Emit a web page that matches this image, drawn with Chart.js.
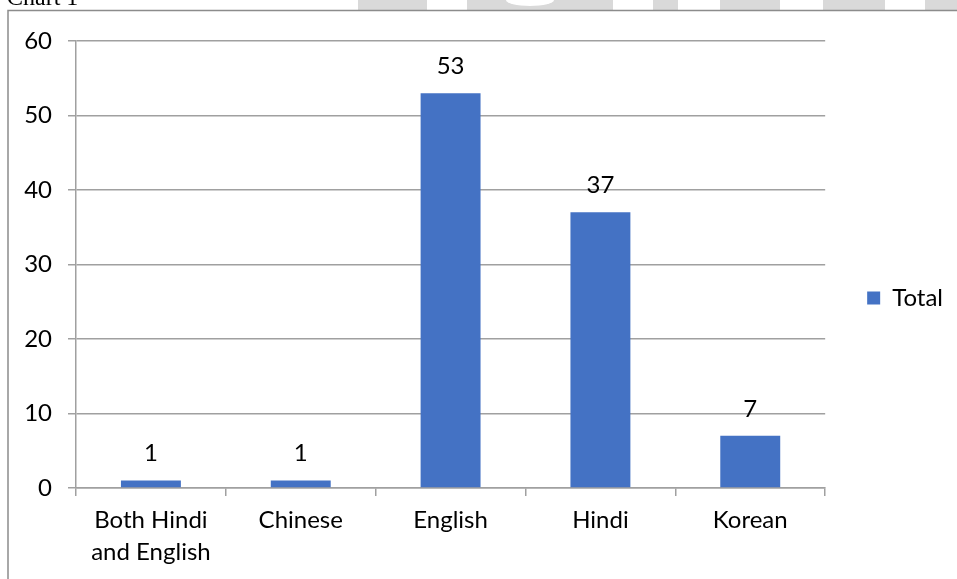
<!DOCTYPE html>
<html lang="en">
<head>
    <meta charset="UTF-8">
    <title>Chart 1</title>
    <script src="https://cdn.jsdelivr.net/npm/chart.js"></script>
    <style>
        html, body { margin: 0; padding: 0; background: #fff; overflow: hidden; }
    </style>
</head>
<body>
    <canvas id="languageChart" width="957" height="579"></canvas>

    <script>
        // chart values
        const languages = [['Both Hindi', 'and English'], 'Chinese', 'English', 'Hindi', 'Korean'];
        const totals = [1, 1, 53, 37, 7];
        const yTicks = [0, 10, 20, 30, 40, 50, 60];
        const seriesName = 'Total';

        const fontFamily = 'Lato, "Open Sans", sans-serif';

        // page frame, caption and the faint watermark behind the chart
        const pageFrame = {
            id: 'pageFrame',
            beforeDraw(chart) {
                const c = chart.ctx;
                c.save();
                c.fillStyle = '#fff';
                c.fillRect(0, 0, chart.width, chart.height);
                c.fillStyle = '#d9d9d9';
                [[358, 69], [467, 146], [653, 25], [720, 60], [823, 62], [925, 32]].forEach(([x, w]) => {
                    c.fillRect(x, 0, w, 10);
                });
                c.fillStyle = '#fff';
                c.beginPath();
                c.ellipse(530, 0, 24, 6, 0, 0, Math.PI * 2);
                c.fill();
                c.fillStyle = '#000';
                c.font = '24px "Liberation Serif", serif';
                c.textBaseline = 'alphabetic';
                c.fillText('Chart 1', 7, 5);
                c.strokeStyle = '#8c8c8c';
                c.lineWidth = 1.5;
                c.beginPath();
                c.moveTo(8, 579);
                c.lineTo(8, 10.5);
                c.lineTo(957, 10.5);
                c.stroke();
                c.restore();
            }
        };

        // value labels above each bar
        const valueLabels = {
            id: 'valueLabels',
            afterDatasetsDraw(chart) {
                const c = chart.ctx;
                c.save();
                c.font = '24px ' + fontFamily;
                c.fillStyle = '#000';
                c.textAlign = 'center';
                c.textBaseline = 'middle';
                chart.getDatasetMeta(0).data.forEach((bar, i) => {
                    c.fillText(String(totals[i]), bar.x, bar.y - 27);
                });
                c.restore();
            }
        };

        const ctx = document.getElementById('languageChart').getContext('2d');
        new Chart(ctx, {
            type: 'bar',
            data: {
                labels: languages,
                datasets: [{
                    label: seriesName,
                    data: totals,
                    backgroundColor: '#4472C4',
                    categoryPercentage: 1,
                    barPercentage: 0.4
                }]
            },
            options: {
                responsive: false,
                animation: false,
                layout: { padding: { top: 17, left: 0, right: 4, bottom: 0 } },
                plugins: {
                    // empty spacer above the plot only, so the legend centres on the frame
                    title: {
                        display: true,
                        text: ' ',
                        fullSize: false,
                        padding: 0,
                        font: { size: 24, lineHeight: 1 }
                    },
                    legend: {
                        position: 'right',
                        labels: {
                            color: '#000',
                            font: { family: fontFamily, size: 24 },
                            boxWidth: 13,
                            boxHeight: 13,
                            padding: 42
                        }
                    },
                    tooltip: { enabled: false }
                },
                scales: {
                    x: {
                        grid: {
                            offset: true,
                            drawOnChartArea: false,
                            drawTicks: true,
                            tickLength: 8,
                            color: '#a0a0a0',
                            lineWidth: 1.5
                        },
                        border: { color: '#a0a0a0', width: 1.5 },
                        ticks: {
                            color: '#000',
                            font: { family: fontFamily, size: 24, lineHeight: 1.35 },
                            padding: 8,
                            maxRotation: 0
                        },
                        afterFit(scale) { scale.height = 91; }
                    },
                    y: {
                        min: 0,
                        max: 60,
                        afterBuildTicks(scale) { scale.ticks = yTicks.map(v => ({ value: v })); },
                        grid: { color: '#a0a0a0', lineWidth: 1.5, tickLength: 8 },
                        border: { color: '#a0a0a0', width: 1.5 },
                        ticks: {
                            color: '#000',
                            font: { family: fontFamily, size: 24 },
                            padding: 16
                        },
                        afterFit(scale) { scale.width = 76; }
                    }
                }
            },
            plugins: [pageFrame, valueLabels]
        });
    </script>
</body>
</html>
